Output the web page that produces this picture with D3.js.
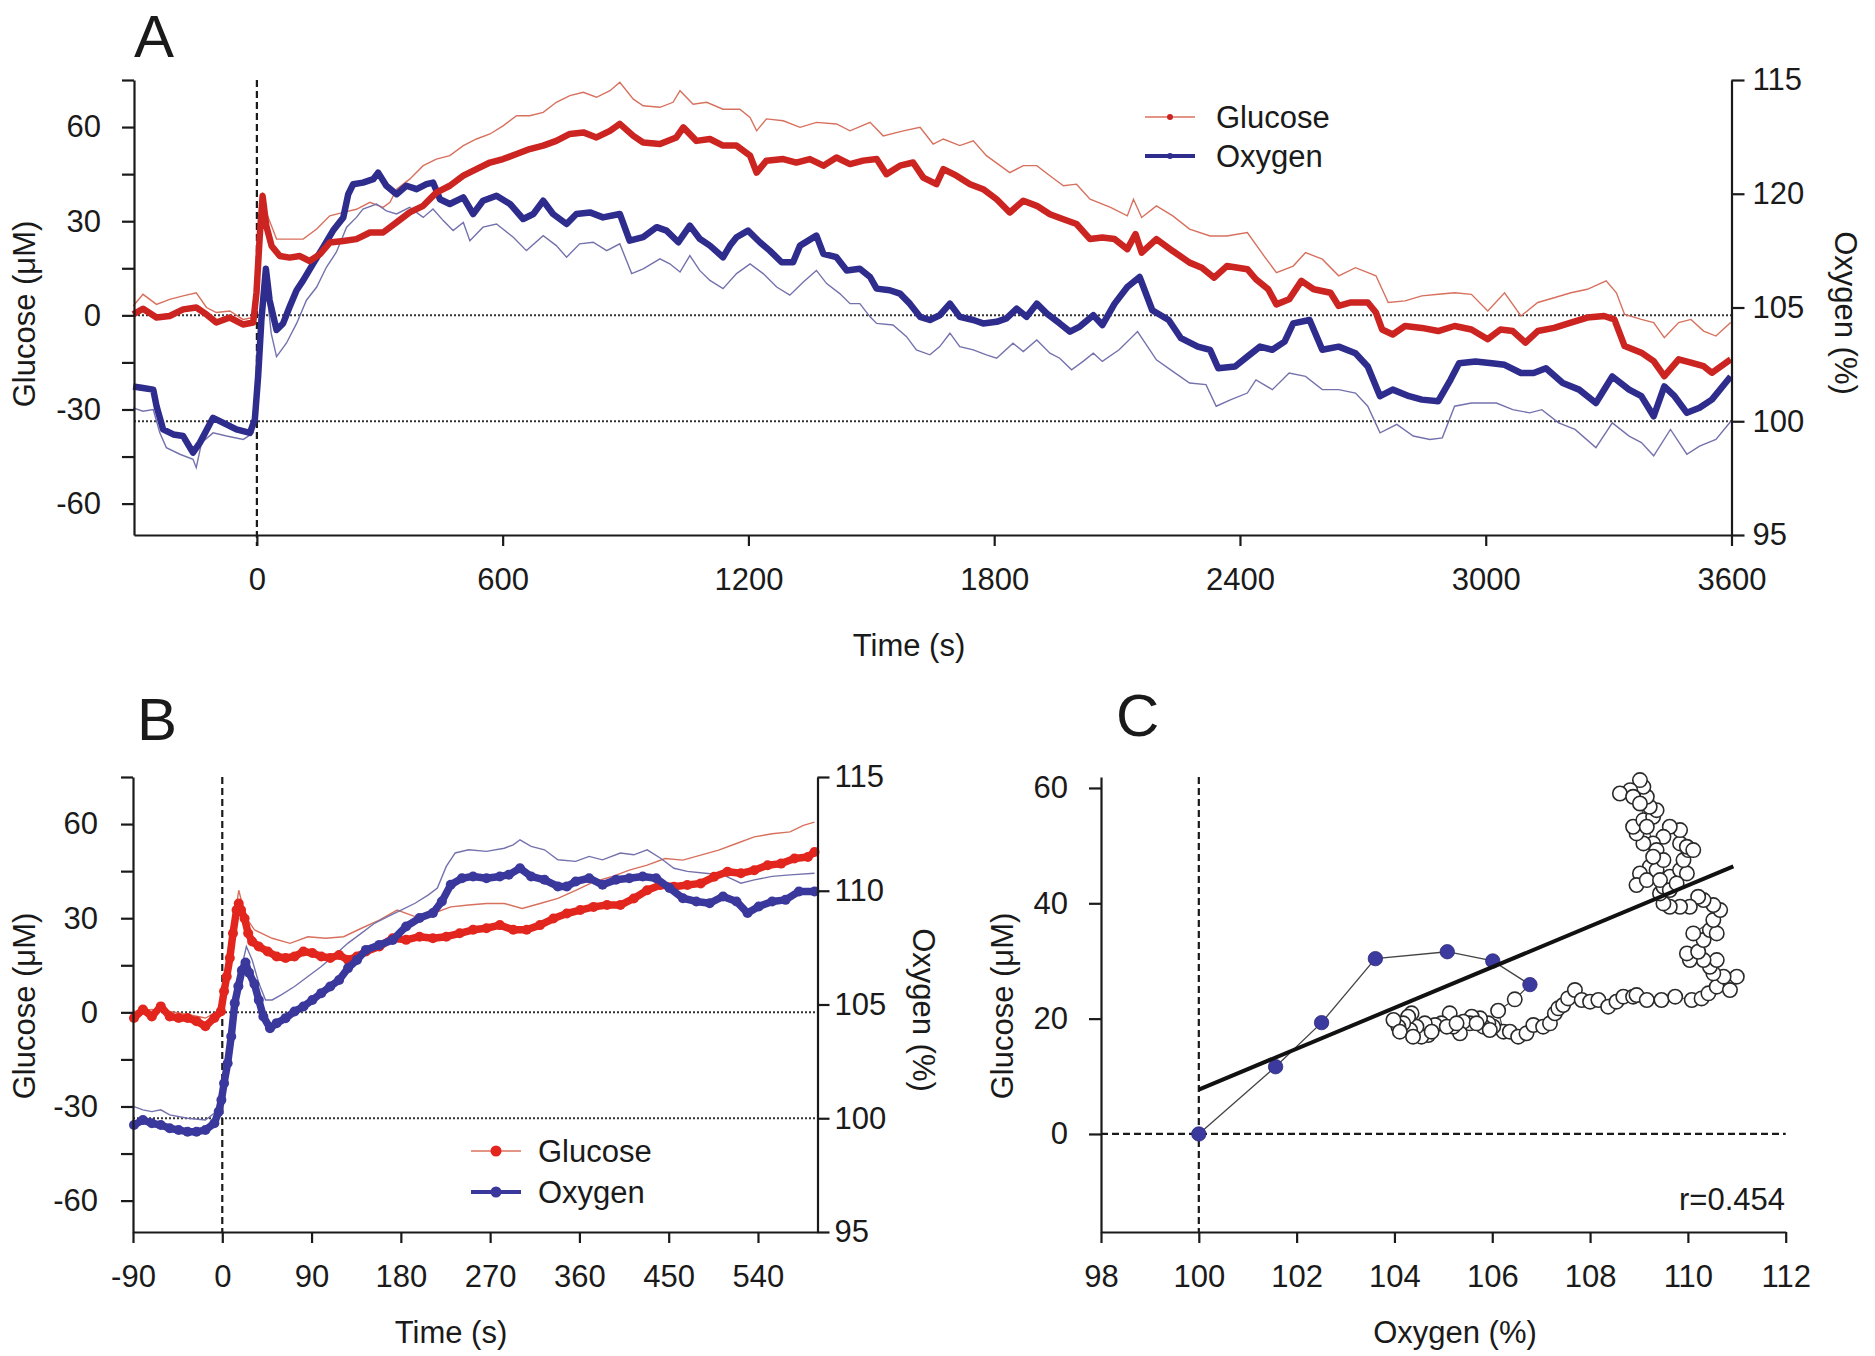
<!DOCTYPE html>
<html><head><meta charset="utf-8">
<script src="https://cdnjs.cloudflare.com/ajax/libs/d3/7.8.5/d3.min.js"></script>
<style>body{margin:0;background:#fff}svg{display:block}</style>
</head><body>
<svg id="chart" width="1875" height="1356"></svg>
<script>
// ---------------- DATA ----------------
// Panel A: [time (s), value]
const glucoseMeanA = [[-302,0.3],[-278,2.1],[-245,-0.7],[-213,-0.2],[-180,1.9],[-148,2.5],[-123,0.3],[-99,-2.3],[-66,-0.7],[-34,-2.9],[-9,-2.3],[-1,7.2],[7,25.3],[14,38],[23,28.5],[36,22.1],[56,18.9],[80,18.4],[105,18.9],[129,17.3],[154,19.5],[178,23.2],[211,23.7],[243,24.3],[276,26.4],[308,26.4],[341,29.6],[373,32.8],[406,34.9],[438,39.1],[471,41.3],[504,44.5],[536,46.6],[569,48.7],[601,49.8],[634,51.4],[666,53],[699,54.1],[731,55.6],[764,57.8],[797,58.3],[829,56.7],[862,58.8],[886,61],[919,57.2],[943,55.1],[984,54.6],[1024,56.7],[1041,59.9],[1073,55.6],[1106,56.2],[1138,54.1],[1171,54.1],[1204,50.9],[1220,45.5],[1244,49.3],[1285,49.8],[1317,48.7],[1350,49.8],[1383,47.7],[1415,50.3],[1448,48.2],[1480,49.3],[1513,49.8],[1537,45],[1570,47.7],[1602,48.7],[1627,43.9],[1659,41.8],[1676,46.6],[1708,44.5],[1741,41.8],[1773,40.2],[1806,37],[1838,32.8],[1871,36.5],[1904,34.9],[1936,32.2],[1969,30.6],[2001,29.1],[2034,24.3],[2064,24.8],[2094,24.3],[2125,21.1],[2145,25.9],[2160,20],[2196,24.3],[2236,20.5],[2277,16.8],[2307,15.2],[2337,12],[2368,15.7],[2418,14.7],[2439,11.5],[2469,8.3],[2489,3.5],[2520,5.1],[2550,11],[2580,8.3],[2621,7.2],[2641,3],[2671,4.1],[2712,4.1],[2732,0.9],[2747,-4.5],[2773,-6.1],[2803,-3.4],[2844,-4],[2884,-5],[2924,-3.4],[2965,-4.5],[3005,-7.6],[3036,-4.5],[3066,-5],[3097,-8.7],[3127,-5],[3167,-4],[3208,-2.3],[3248,-0.7],[3289,-0.2],[3314,-1.3],[3339,-9.8],[3380,-11.9],[3410,-14.6],[3436,-19.4],[3471,-14],[3501,-15.1],[3532,-16.2],[3552,-18.3],[3598,-14]];
const glucoseUpperA = [[-302,3],[-278,6.7],[-245,3.5],[-213,5.1],[-180,6.2],[-148,7.2],[-123,2.5],[-99,0.9],[-66,1.4],[-34,-1.3],[-9,-0.7],[-1,2],[7,30.6],[14,39.2],[23,32.8],[48,24.3],[80,24.3],[113,24.3],[146,27.5],[178,31.7],[211,32.8],[243,33.8],[276,36],[308,34.4],[325,36],[341,40.2],[373,43.4],[406,47.7],[438,49.8],[471,50.9],[504,54.1],[536,56.2],[569,57.8],[601,60.4],[634,63.6],[666,63.6],[699,64.7],[731,67.9],[764,70],[797,71.1],[829,69.5],[862,71.6],[886,74.3],[919,68.9],[943,66.8],[984,66.3],[1016,67.9],[1033,71.6],[1065,67.3],[1098,67.9],[1138,65.7],[1179,65.7],[1204,63.1],[1220,58.8],[1244,62.6],[1285,62],[1326,59.9],[1366,61.5],[1415,61],[1448,58.8],[1497,61.5],[1529,57.2],[1578,58.8],[1619,59.9],[1651,54.6],[1676,56.2],[1716,54.1],[1749,55.6],[1781,50.9],[1838,45.5],[1871,47.7],[1904,47.7],[1936,44.5],[1969,41.3],[2001,41.8],[2034,37],[2084,34.4],[2125,31.7],[2140,37],[2160,31.2],[2196,34.9],[2236,31.7],[2277,27.5],[2327,25.3],[2368,25.3],[2418,26.4],[2459,18.9],[2489,13.6],[2530,15.7],[2560,20],[2601,17.9],[2641,12.6],[2682,15.2],[2732,12.6],[2762,4.1],[2803,4.6],[2844,6.2],[2884,6.7],[2924,7.2],[2965,6.7],[3005,1.4],[3046,7.2],[3086,-0.2],[3127,4.1],[3167,5.6],[3208,7.2],[3248,8.3],[3294,11],[3319,7.2],[3339,0.3],[3380,-1.3],[3410,-2.3],[3436,-7.1],[3471,-2.3],[3501,-1.3],[3532,-5],[3562,-6.6],[3598,-2.3]];
const oxygenMeanA = [[-302,101.53],[-278,101.46],[-253,101.39],[-245,100.66],[-229,99.64],[-204,99.42],[-180,99.35],[-156,98.62],[-139,99.06],[-107,100.15],[-82,99.93],[-50,99.64],[-17,99.49],[-5,100.08],[3,101.97],[11,104.45],[22,106.7],[31,105.32],[48,104.01],[64,104.3],[80,105.03],[97,105.76],[113,106.19],[137,106.92],[162,107.65],[186,108.38],[211,108.96],[223,109.98],[235,110.42],[259,110.49],[284,110.64],[296,110.93],[316,110.35],[341,109.98],[365,110.35],[390,110.2],[414,110.42],[430,110.49],[447,109.76],[471,109.55],[504,109.84],[528,109.11],[552,109.69],[585,109.91],[618,109.55],[650,108.89],[675,109.11],[699,109.69],[723,109.11],[756,108.67],[780,109.11],[813,109.18],[845,108.96],[886,109.11],[910,107.94],[943,108.09],[976,108.53],[1000,108.38],[1029,107.87],[1057,108.6],[1081,108.02],[1106,107.72],[1138,107.21],[1155,107.72],[1171,108.09],[1199,108.38],[1228,107.87],[1252,107.5],[1281,106.99],[1309,106.99],[1326,107.72],[1366,108.16],[1383,107.36],[1415,107.21],[1440,106.63],[1472,106.7],[1497,106.34],[1513,105.83],[1545,105.76],[1570,105.61],[1594,105.17],[1619,104.59],[1643,104.45],[1667,104.66],[1692,105.17],[1716,104.59],[1749,104.45],[1773,104.3],[1806,104.37],[1830,104.52],[1855,104.95],[1879,104.59],[1904,105.17],[1928,104.74],[1960,104.3],[1985,103.94],[2009,104.16],[2042,104.66],[2064,104.23],[2094,105.17],[2125,105.9],[2155,106.34],[2186,104.88],[2226,104.45],[2256,103.65],[2297,103.28],[2327,103.14],[2347,102.33],[2388,102.41],[2418,102.84],[2449,103.28],[2479,103.14],[2509,103.5],[2530,104.3],[2570,104.45],[2601,103.14],[2641,103.28],[2682,102.99],[2712,102.41],[2742,101.1],[2773,101.39],[2813,101.1],[2844,100.95],[2884,100.88],[2914,101.82],[2935,102.55],[2975,102.63],[3015,102.55],[3046,102.48],[3086,102.12],[3117,102.12],[3147,102.33],[3188,101.68],[3228,101.39],[3269,100.8],[3309,101.97],[3350,101.39],[3380,101.1],[3410,100.22],[3436,101.53],[3461,101.1],[3491,100.37],[3522,100.59],[3552,100.95],[3598,101.97]];
const oxygenLowerA = [[-302,100.59],[-278,100.44],[-253,100.51],[-237,99.49],[-221,98.84],[-188,98.55],[-156,98.33],[-148,97.96],[-135,99.06],[-107,99.49],[-74,99.35],[-33,99.2],[-9,99.49],[3,101.24],[15,105.61],[23,105.9],[35,103.86],[48,102.84],[72,103.43],[97,104.3],[121,105.32],[146,105.9],[170,106.78],[194,107.43],[219,108.53],[243,108.96],[259,109.33],[292,109.55],[316,109.25],[341,109.11],[373,109.4],[406,108.96],[430,109.33],[455,108.82],[479,108.38],[504,108.74],[520,107.94],[552,108.53],[585,108.67],[626,108.09],[658,107.5],[699,108.16],[731,107.72],[756,107.21],[788,107.8],[821,107.87],[854,107.5],[886,107.8],[915,106.49],[943,106.7],[984,107.14],[1008,106.92],[1033,106.56],[1057,107.28],[1081,106.63],[1106,106.19],[1138,105.83],[1171,106.49],[1204,106.92],[1236,106.49],[1269,105.9],[1301,105.54],[1334,106.12],[1366,106.63],[1391,106.05],[1423,105.61],[1448,105.17],[1472,105.17],[1497,104.59],[1513,104.3],[1553,104.23],[1586,103.72],[1610,103.14],[1643,102.92],[1667,103.28],[1692,103.87],[1716,103.28],[1749,103.14],[1781,102.92],[1806,102.77],[1846,103.43],[1871,103.06],[1904,103.57],[1936,102.99],[1960,102.77],[1989,102.26],[2017,102.63],[2042,102.99],[2064,102.63],[2105,103.14],[2150,103.94],[2196,102.7],[2236,102.19],[2277,101.68],[2317,101.61],[2342,100.66],[2378,100.95],[2418,101.24],[2439,101.82],[2479,101.39],[2520,102.12],[2560,101.97],[2601,101.39],[2641,101.39],[2682,101.24],[2712,100.66],[2742,99.49],[2783,99.86],[2823,99.35],[2864,99.2],[2894,99.27],[2924,100.66],[2965,100.8],[3026,100.8],[3066,100.51],[3107,100.37],[3137,100.51],[3178,99.93],[3218,99.64],[3269,98.84],[3309,99.93],[3350,99.35],[3380,99.06],[3410,98.48],[3451,99.64],[3491,98.55],[3522,98.91],[3562,99.2],[3598,99.99]];

// Panel B: [time (s), value]
const glucoseMeanB = [[-89,-1.8],[-80,0.9],[-71,-1.3],[-62,1.9],[-53,-1.3],[-44,-1.8],[-35,-1.8],[-26,-2.8],[-17,-4.4],[-8,-1.8],[-1.4,0.3],[1.8,6.7],[4.5,11.4],[7.6,17.3],[10.8,25.2],[14.4,32.6],[16.6,34.7],[18.9,32.6],[22.5,29.9],[26.1,25.2],[30.1,22.6],[36.8,21],[45.8,19.4],[54.8,17.8],[63.8,17.3],[72.8,17.8],[81.8,19.4],[90.8,18.9],[99.8,17.8],[108.8,17.3],[117.8,18.3],[126.8,16.7],[135.8,17.8],[144.8,19.4],[158.3,21],[171.8,23.6],[185.3,23.1],[198.8,24.1],[212.3,23.6],[225.8,24.1],[239.3,25.2],[252.8,26.3],[266.3,26.8],[279.8,27.8],[293.3,26.3],[306.8,26.3],[320.3,27.8],[333.8,29.9],[347.3,31.5],[360.8,32.6],[374.3,33.6],[387.8,34.2],[401.3,34.2],[414.8,36.3],[428.3,38.9],[441.8,40.6],[455.3,40],[468.8,40.6],[482.3,41.1],[495.8,43.2],[509.3,44.8],[522.8,44.3],[536.3,45.3],[549.8,46.9],[563.3,47.4],[576.8,49],[590.3,49.5],[597,51.1]];
const glucoseUpperB = [[-89,0.3],[-71,0.9],[-53,0.3],[-35,-0.7],[-17,-1.8],[-1,0.9],[7.6,19.9],[16.6,38.9],[23.4,30.5],[32.4,26.3],[50.3,23.6],[68.3,22],[86.3,24.1],[104.3,23.6],[122.3,24.1],[140.3,26.8],[158.3,29.4],[176.3,32.6],[194.3,30.5],[212.3,31.5],[230.3,33.6],[248.3,34.2],[266.3,34.7],[284.3,34.7],[302.3,33.1],[320.3,34.7],[338.3,36.3],[356.3,38.9],[374.3,41.6],[392.3,43.2],[410.3,45.3],[428.3,46.9],[446.3,49],[464.3,48.5],[482.3,50.1],[500.3,51.7],[518.3,53.8],[536.3,55.9],[554.3,56.9],[572.3,57.5],[585.8,59.6],[597,60.6]];
const oxygenMeanB = [[-89,99.7],[-80,99.92],[-71,99.78],[-62,99.7],[-53,99.56],[-44,99.48],[-35,99.41],[-26,99.41],[-17,99.48],[-8,99.78],[-3.6,100.29],[-0.9,100.8],[1.8,101.54],[5.4,102.42],[9,103.59],[12.6,105.06],[16.2,105.8],[19.8,106.5],[23.4,106.85],[26.9,106.4],[32.4,105.9],[36.8,105.2],[41.4,104.47],[48.1,103.96],[54.8,104.18],[63.8,104.4],[72.8,104.69],[81.8,104.91],[90.8,105.2],[99.8,105.5],[108.8,105.79],[117.8,106.08],[126.8,106.6],[135.8,106.96],[144.8,107.4],[158.3,107.62],[171.8,107.84],[185.3,108.43],[198.8,108.8],[212.3,109.02],[221.3,109.53],[230.3,110.26],[241.6,110.55],[252.8,110.63],[266.3,110.55],[279.8,110.63],[288.8,110.7],[300.1,110.99],[311.3,110.63],[324.8,110.48],[338.3,110.19],[347.3,110.19],[356.3,110.41],[369.8,110.55],[383.3,110.26],[396.8,110.48],[410.3,110.55],[423.8,110.63],[437.3,110.55],[450.8,110.12],[464.3,109.67],[477.8,109.53],[491.3,109.45],[504.8,109.75],[518.3,109.53],[529.5,109.02],[540.8,109.31],[554.3,109.53],[567.8,109.6],[581.3,109.97],[597,109.97]];
const oxygenUpperB = [[-89,100.51],[-80,100.37],[-71,100.29],[-62,100.37],[-53,100.15],[-35,100],[-17,99.92],[-3.6,100.37],[3.1,102.12],[9.9,104.18],[16.6,106.08],[24.3,107.55],[30.1,106.96],[36.8,105.94],[43.6,105.2],[50.3,105.2],[59.4,105.42],[72.8,105.79],[86.3,106.23],[99.8,106.67],[113.3,107.18],[126.8,107.7],[140.3,108.14],[153.8,108.58],[167.3,108.87],[180.8,109.16],[194.3,109.45],[207.8,109.82],[216.8,110.12],[225.8,111.07],[234.8,111.66],[248.3,111.8],[266.3,111.73],[284.3,111.87],[293.3,112.02],[300.1,112.24],[311.3,111.95],[324.8,111.8],[338.3,111.36],[356.3,111.29],[369.8,111.51],[383.3,111.36],[401.3,111.66],[414.8,111.58],[428.3,111.8],[441.8,111.43],[455.3,110.99],[468.8,110.85],[486.8,110.77],[504.8,110.7],[522.8,110.33],[536.3,110.48],[554.3,110.63],[572.3,110.7],[597,110.77]];

// Panel C: [oxygen %, glucose µM]
const earlyPointsC = [[100,0],[101.57,11.66],[102.51,19.3],[103.61,30.4],[105.08,31.6],[106.01,30.0],[106.77,25.9]];
const laterPointsC = [[106.46,23.34],[106.12,21.38],[106.23,17.74],[106.02,18.6],[105.92,19.18],[105.82,18.6],[105.75,20.05],[105.58,20.34],[105.54,19.18],[105.41,19.47],[105.34,17.45],[105.2,18.6],[105.13,20.92],[104.96,19.18],[104.83,18.89],[104.69,17.16],[104.55,16.87],[104.62,19.18],[104.45,18.6],[104.32,18.03],[104.35,20.92],[104.28,20.34],[104.18,19.18],[104.08,18.6],[103.98,19.76],[104.11,17.74],[104.38,16.87],[104.76,17.74],[105.07,18.6],[105.27,19.18],[105.68,19.18],[105.95,18.03],[106.36,17.74],[106.53,16.87],[106.7,17.45],[106.84,18.89],[107.04,18.6],[107.18,19.18],[107.28,20.92],[107.35,21.78],[107.45,22.36],[107.55,23.51],[107.69,24.96],[107.83,23.23],[108.0,22.94],[108.17,23.23],[108.37,22.07],[108.54,22.94],[108.68,23.8],[108.88,23.8],[108.95,24.09],[109.16,23.23],[109.46,23.23],[109.74,23.8],[110.08,23.23],[110.28,23.51],[110.42,24.38],[110.59,25.54],[110.86,24.96],[111.0,27.27],[110.73,27.27],[110.52,27.85],[110.45,29.0],[110.59,30.16],[110.32,30.16],[110.04,30.16],[109.98,31.31],[110.21,31.6],[110.32,33.62],[110.45,35.36],[110.59,34.78],[110.11,34.78],[110.52,37.09],[110.66,38.82],[110.52,39.69],[110.32,40.56],[110.21,41.13],[110.04,39.4],[109.84,39.4],[109.63,39.4],[109.5,39.98],[109.43,41.71],[109.5,42.87],[109.63,44.6],[109.84,45.76],[109.98,45.18],[109.91,47.49],[110.01,49.22],[109.84,50.38],[109.84,52.69],[109.63,53.27],[109.5,51.53],[109.29,50.38],[109.09,50.38],[108.95,52.11],[108.88,53.27],[109.09,54.42],[109.29,55],[109.36,56.15],[109.22,56.73],[109.16,58.47],[109.09,60.2],[109.02,61.36],[108.82,59.62],[108.61,59.04],[108.88,58.47],[109.02,57.31],[109.16,53.27],[109.36,49.22],[109.22,46.33],[109.02,45.18],[108.95,43.16],[109.16,44.02],[109.36,45.76],[109.5,47.49],[109.29,48.07],[109.43,44.02],[109.63,42.29],[109.77,43.45],[109.98,49.8],[110.11,49.22]];
const regressionX = [100, 110.93];
const regressionY = [7.7, 46.4];
const correlationText = "r=0.454";

// Axis tick values & labels
const glucoseTicks = [-60,-45,-30,-15,0,15,30,45,60,75];
const glucoseLabelled = [-60,-30,0,30,60];
const timeTicksA = [0,600,1200,1800,2400,3000,3600];
const oxygenTicks = [95,100,105,110,115];
const oxygenLabelsA = ["95","100","105","120","115"];
const oxygenLabelsB = ["95","100","105","110","115"];
const timeTicksB = [-90,0,90,180,270,360,450,540];
const glucoseTicksC = [0,20,40,60];
const oxygenTicksC = [98,100,102,104,106,108,110,112];
const seriesNames = ["Glucose","Oxygen"];

// ---------------- DRAWING ----------------
const FONT = '"Liberation Sans", Arial, Helvetica, sans-serif';
const INK = "#1a1a1a";
const RED = "#cc2420", RED_THIN = "#d8705e", RED_DOT = "#e2261e";
const BLUE = "#2e2c8c", BLUE_THIN = "#7472ad", BLUE_DOT = "#3a389c";
const FS = 31;
const svg = d3.select("#chart");

function styleAxis(g) {
  g.attr("font-size", null).attr("font-family", null);
  g.selectAll("path.domain").attr("stroke", INK).attr("stroke-width", 2.2);
  g.selectAll(".tick line").attr("stroke", INK).attr("stroke-width", 2.2);
  g.selectAll("text").attr("font-size", FS).attr("font-family", FONT).attr("fill", INK);
}
function txt(x, y, s, opts = {}) {
  const t = svg.append("text").attr("x", x).attr("y", y).text(s)
    .attr("font-family", FONT).attr("font-size", opts.size || FS).attr("fill", INK)
    .attr("text-anchor", opts.anchor || "middle");
  if (opts.rotate) t.attr("transform", `rotate(${opts.rotate},${x},${y})`).attr("dominant-baseline", "central");
  return t;
}
const fmtG = d => glucoseLabelled.includes(d) ? String(d) : "";

// ===== Panel A =====
const xA = d3.scaleLinear().domain([-300, 3600]).range([134, 1731.5]);
const gA = d3.scaleLinear().domain([-70, 75]).range([535, 80]);
const oA = d3.scaleLinear().domain([95, 115]).range([535, 80]);
const pA = svg.append("g");

pA.append("line").attr("x1", xA(-300)).attr("x2", xA(3600)).attr("y1", gA(0)).attr("y2", gA(0))
  .attr("stroke", "#333").attr("stroke-width", 2).attr("stroke-dasharray", "2,2");
pA.append("line").attr("x1", xA(-300)).attr("x2", xA(3600)).attr("y1", oA(100)).attr("y2", oA(100))
  .attr("stroke", "#333").attr("stroke-width", 2).attr("stroke-dasharray", "2,2");
pA.append("line").attr("x1", xA(0)).attr("x2", xA(0)).attr("y1", gA(75)).attr("y2", gA(-70) + 11)
  .attr("stroke", INK).attr("stroke-width", 2.2).attr("stroke-dasharray", "7,4");

const lineAg = d3.line().x(d => xA(d[0])).y(d => gA(d[1]));
const lineAo = d3.line().x(d => xA(d[0])).y(d => oA(d[1]));
pA.append("path").attr("d", lineAg(glucoseUpperA)).attr("fill", "none").attr("stroke", RED_THIN).attr("stroke-width", 1.4);
pA.append("path").attr("d", lineAo(oxygenLowerA)).attr("fill", "none").attr("stroke", BLUE_THIN).attr("stroke-width", 1.4);
pA.append("path").attr("d", lineAo(oxygenMeanA)).attr("fill", "none").attr("stroke", BLUE).attr("stroke-width", 6.5).attr("stroke-linejoin", "round");
pA.append("path").attr("d", lineAg(glucoseMeanA)).attr("fill", "none").attr("stroke", RED).attr("stroke-width", 6.5).attr("stroke-linejoin", "round");

pA.append("g").attr("transform", `translate(${xA(-300)},0)`)
  .call(d3.axisLeft(gA).tickValues(glucoseTicks).tickFormat(fmtG).tickSize(12).tickSizeOuter(0).tickPadding(21)).call(styleAxis);
pA.append("g").attr("transform", `translate(${xA(3600)},0)`)
  .call(d3.axisRight(oA).tickValues(oxygenTicks).tickFormat((d, i) => oxygenLabelsA[i]).tickSize(13).tickSizeOuter(0).tickPadding(8)).call(styleAxis);
pA.append("g").attr("transform", `translate(0,${gA(-70)})`)
  .call(d3.axisBottom(xA).tickValues(timeTicksA).tickFormat(d => String(d)).tickSize(11).tickSizeOuter(0).tickPadding(22)).call(styleAxis);

txt(24, 314, "Glucose (μM)", { rotate: -90 });
txt(1845, 313, "Oxygen (%)", { rotate: 90 });
txt(909, 656, "Time (s)");
txt(134, 57, "A", { size: 60, anchor: "start" });

const legA = [{ y: 117, c: RED_THIN, w: 1.6, dot: RED }, { y: 156, c: BLUE, w: 3.8, dot: BLUE }];
legA.forEach((L, i) => {
  svg.append("line").attr("x1", 1145).attr("x2", 1195).attr("y1", L.y).attr("y2", L.y).attr("stroke", L.c).attr("stroke-width", L.w);
  svg.append("circle").attr("cx", 1170).attr("cy", L.y).attr("r", 3).attr("fill", L.dot);
  txt(1216, L.y + 11, seriesNames[i], { anchor: "start" });
});

// ===== Panel B =====
const xB = d3.scaleLinear().domain([-90, 600]).range([133, 817.5]);
const gB = d3.scaleLinear().domain([-70, 75]).range([1232, 777]);
const oB = d3.scaleLinear().domain([95, 115]).range([1232, 777]);
const pB = svg.append("g");
pB.append("line").attr("x1", xB(-90)).attr("x2", xB(600)).attr("y1", gB(0)).attr("y2", gB(0))
  .attr("stroke", "#333").attr("stroke-width", 2).attr("stroke-dasharray", "2,2");
pB.append("line").attr("x1", xB(-90)).attr("x2", xB(600)).attr("y1", oB(100)).attr("y2", oB(100))
  .attr("stroke", "#333").attr("stroke-width", 2).attr("stroke-dasharray", "2,2");
pB.append("line").attr("x1", xB(0)).attr("x2", xB(0)).attr("y1", gB(75)).attr("y2", gB(-70))
  .attr("stroke", INK).attr("stroke-width", 2.2).attr("stroke-dasharray", "7,4");

const lineBg = d3.line().x(d => xB(d[0])).y(d => gB(d[1]));
const lineBo = d3.line().x(d => xB(d[0])).y(d => oB(d[1]));
pB.append("path").attr("d", lineBg(glucoseUpperB)).attr("fill", "none").attr("stroke", RED_THIN).attr("stroke-width", 1.4);
pB.append("path").attr("d", lineBo(oxygenUpperB)).attr("fill", "none").attr("stroke", BLUE_THIN).attr("stroke-width", 1.4);
pB.append("path").attr("d", lineBg(glucoseMeanB)).attr("fill", "none").attr("stroke", RED_DOT).attr("stroke-width", 7.5).attr("stroke-linejoin", "round");
pB.selectAll("circle.g").data(glucoseMeanB).join("circle").attr("class", "g")
  .attr("cx", d => xB(d[0])).attr("cy", d => gB(d[1])).attr("r", 5).attr("fill", RED_DOT);
pB.append("path").attr("d", lineBo(oxygenMeanB)).attr("fill", "none").attr("stroke", BLUE_DOT).attr("stroke-width", 7.5).attr("stroke-linejoin", "round");
pB.selectAll("circle.o").data(oxygenMeanB).join("circle").attr("class", "o")
  .attr("cx", d => xB(d[0])).attr("cy", d => oB(d[1])).attr("r", 5).attr("fill", BLUE_DOT);

pB.append("g").attr("transform", `translate(${xB(-90)},0)`)
  .call(d3.axisLeft(gB).tickValues(glucoseTicks).tickFormat(fmtG).tickSize(12).tickSizeOuter(0).tickPadding(23)).call(styleAxis);
pB.append("g").attr("transform", `translate(${xB(600)},0)`)
  .call(d3.axisRight(oB).tickValues(oxygenTicks).tickFormat((d, i) => oxygenLabelsB[i]).tickSize(12).tickSizeOuter(0).tickPadding(5)).call(styleAxis);
pB.append("g").attr("transform", `translate(0,${gB(-70)})`)
  .call(d3.axisBottom(xB).tickValues(timeTicksB).tickFormat(d => String(d)).tickSize(11).tickSizeOuter(0).tickPadding(22)).call(styleAxis);

txt(24, 1006, "Glucose (μM)", { rotate: -90 });
txt(923, 1010, "Oxygen (%)", { rotate: 90 });
txt(451, 1343, "Time (s)");
txt(137, 740, "B", { size: 60, anchor: "start" });

const legB = [{ y: 1151, c: RED_THIN, w: 1.6, dot: RED_DOT }, { y: 1192, c: BLUE_DOT, w: 4, dot: BLUE_DOT }];
legB.forEach((L, i) => {
  svg.append("line").attr("x1", 471).attr("x2", 521).attr("y1", L.y).attr("y2", L.y).attr("stroke", L.c).attr("stroke-width", L.w);
  svg.append("circle").attr("cx", 496).attr("cy", L.y).attr("r", 5.5).attr("fill", L.dot);
  txt(538, L.y + 11, seriesNames[i], { anchor: "start" });
});

// ===== Panel C =====
const xC = d3.scaleLinear().domain([98, 112]).range([1101, 1785.7]);
const gC = d3.scaleLinear().domain([-17, 61.9]).range([1232, 777]);
const pC = svg.append("g");
pC.append("line").attr("x1", xC(98)).attr("x2", xC(112)).attr("y1", gC(0)).attr("y2", gC(0))
  .attr("stroke", INK).attr("stroke-width", 2.2).attr("stroke-dasharray", "7,4");
pC.append("line").attr("x1", xC(100)).attr("x2", xC(100)).attr("y1", gC(61.9)).attr("y2", gC(-17))
  .attr("stroke", INK).attr("stroke-width", 2.2).attr("stroke-dasharray", "7,4");

const lineC = d3.line().x(d => xC(d[0])).y(d => gC(d[1]));
pC.append("path").attr("d", lineC([earlyPointsC[earlyPointsC.length - 1]].concat(laterPointsC)))
  .attr("fill", "none").attr("stroke", "#444").attr("stroke-width", 1.2);
pC.selectAll("circle.open").data(laterPointsC).join("circle").attr("class", "open")
  .attr("cx", d => xC(d[0])).attr("cy", d => gC(d[1])).attr("r", 7.2)
  .attr("fill", "#fff").attr("stroke", "#2a2a2a").attr("stroke-width", 1.6);
pC.append("path").attr("d", lineC(earlyPointsC)).attr("fill", "none").attr("stroke", "#444").attr("stroke-width", 1.3);
pC.selectAll("circle.early").data(earlyPointsC).join("circle").attr("class", "early")
  .attr("cx", d => xC(d[0])).attr("cy", d => gC(d[1])).attr("r", 7.2)
  .attr("fill", "#3c3a9e").attr("stroke", "#2a2878").attr("stroke-width", 0.8);
pC.append("line").attr("x1", xC(regressionX[0])).attr("x2", xC(regressionX[1]))
  .attr("y1", gC(regressionY[0])).attr("y2", gC(regressionY[1]))
  .attr("stroke", "#111").attr("stroke-width", 4);

pC.append("g").attr("transform", `translate(${xC(98)},0)`)
  .call(d3.axisLeft(gC).tickValues(glucoseTicksC).tickFormat(d => String(d)).tickSize(12).tickSizeOuter(0).tickPadding(21)).call(styleAxis);
pC.append("g").attr("transform", `translate(0,${gC(-17)})`)
  .call(d3.axisBottom(xC).tickValues(oxygenTicksC).tickFormat(d => String(d)).tickSize(11).tickSizeOuter(0).tickPadding(22)).call(styleAxis);

txt(1002, 1006, "Glucose (μM)", { rotate: -90 });
txt(1455, 1343, "Oxygen (%)");
txt(1785, 1210, correlationText, { anchor: "end" });
txt(1116, 736, "C", { size: 60, anchor: "start" });
</script>
</body></html>
